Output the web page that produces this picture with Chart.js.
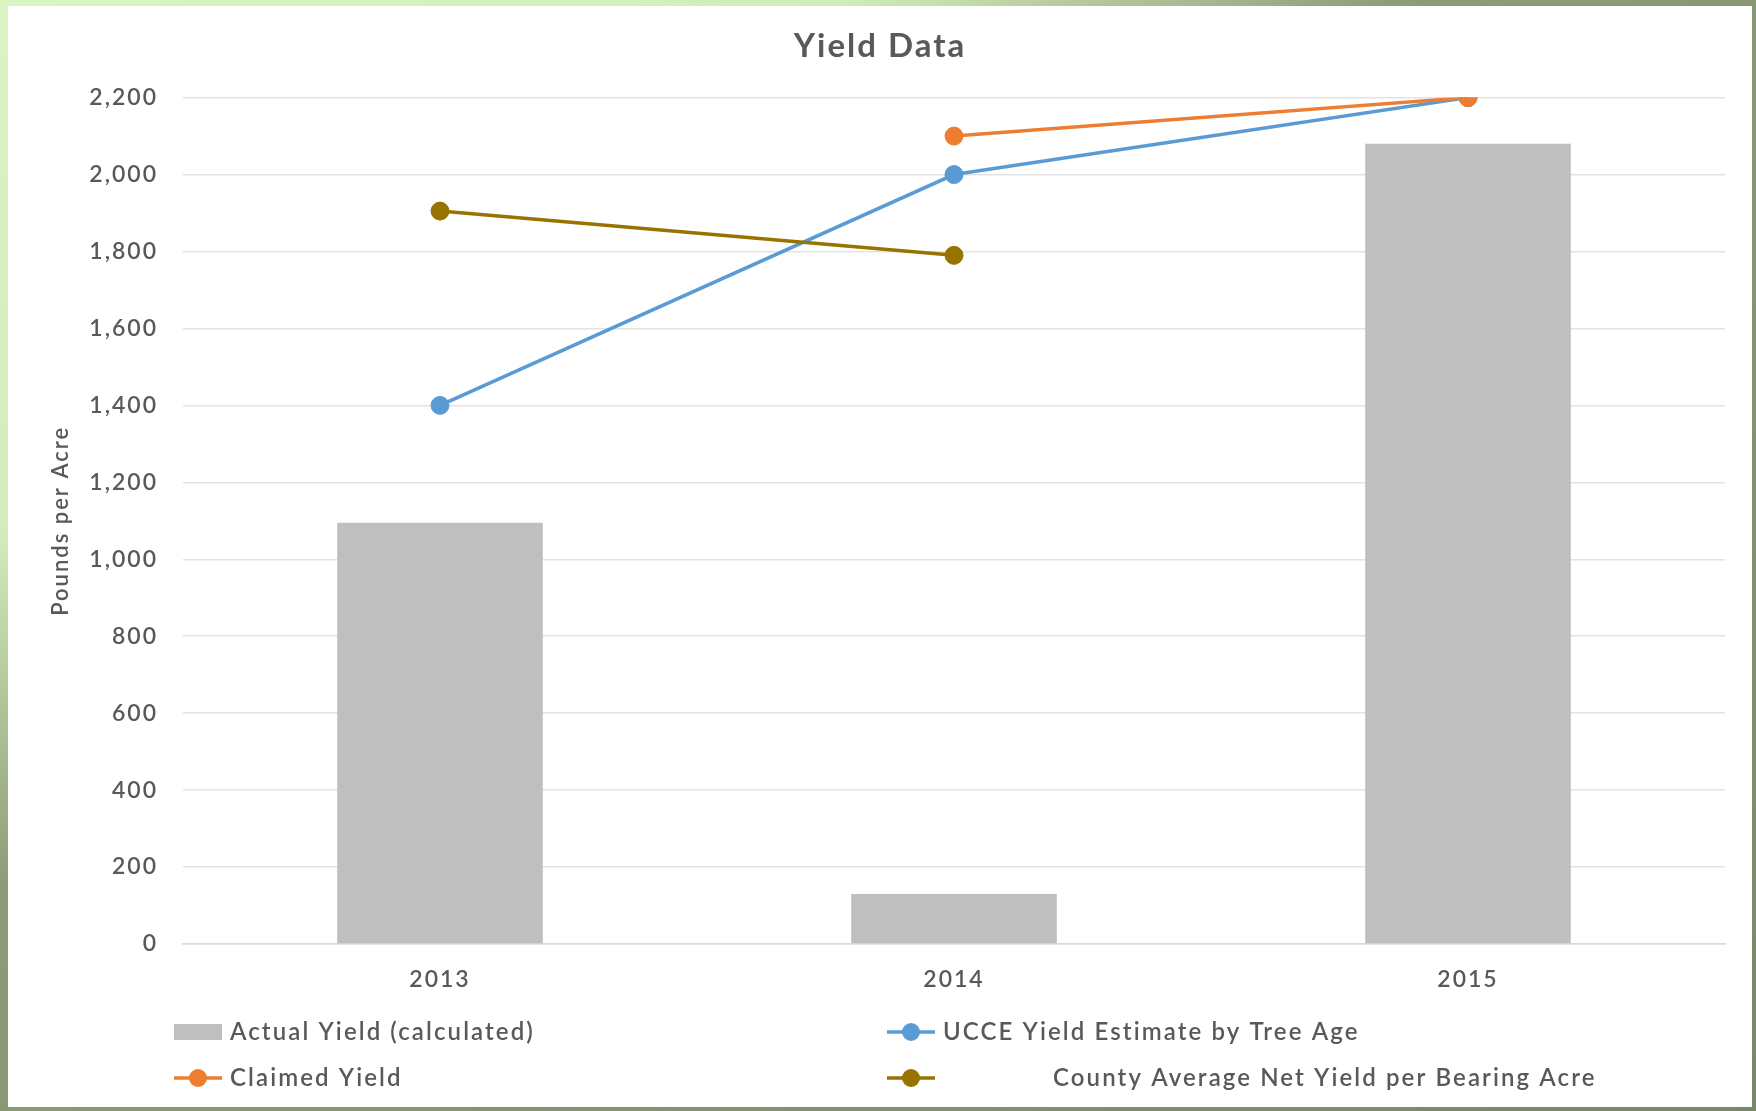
<!DOCTYPE html>
<html>
<head>
<meta charset="utf-8">
<title>Yield Data</title>
<script src="https://cdn.jsdelivr.net/npm/chart.js@4.4.1/dist/chart.umd.min.js"></script>
<style>
    html, body { margin: 0; padding: 0; }
    body {
        width: 1756px;
        height: 1111px;
        overflow: hidden;
        position: relative;
        background: linear-gradient(to bottom right, #dbf4c6 0%, #d2ecbc 24%, #8d9c77 40%, #7a8869 100%);
    }
    #panel {
        position: absolute;
        left: 8px;
        top: 6px;
        width: 1744px;
        height: 1101px;
        background: #ffffff;
    }
</style>
</head>
<body>
<div id="panel"><canvas id="yieldChart" width="1744" height="1101"></canvas></div>
<script>
(function () {
    "use strict";

    // data
    var years = ['2013', '2014', '2015'];
    var actualYield = [1095, 130, 2080];
    var ucceEstimate = [1400, 2000, 2200];
    var claimedYield = [null, 2100, 2200];
    var countyAverage = [1905, 1790, null];
    var seriesNames = [
        'Actual Yield (calculated)',
        'UCCE Yield Estimate by Tree Age',
        'Claimed Yield',
        'County Average Net Yield per Bearing Acre'
    ];
    var yMin = 0;
    var yMax = 2200;
    var yStep = 200;

    var textColor = '#595959';
    var fontName = 'Lato, "Open Sans", sans-serif';

    // lower order = drawn later (on top), so orange sits over blue at 2015
    function lineSet(label, data, color, order) {
        return {
            type: 'line',
            label: label,
            data: data,
            borderColor: color,
            backgroundColor: color,
            borderWidth: 3.5,
            pointRadius: 9,
            pointBorderWidth: 1,
            pointBorderColor: color,
            pointBackgroundColor: color,
            tension: 0,
            fill: false,
            order: order
        };
    }

    // the Excel text is wider than Lato, widen it a bit
    var spacing = {
        id: 'spacing',
        beforeDraw: function (chart) {
            chart.ctx.letterSpacing = '2px';
        }
    };

    // legend drawn by hand, two columns like the Excel original
    var excelLegend = {
        id: 'excelLegend',
        afterDraw: function (chart) {
            var ctx = chart.ctx;
            var slots = [
                { x: 166, textX: 222, y: 1026 },
                { x: 879, textX: 935, y: 1026 },
                { x: 166, textX: 222, y: 1072 },
                { x: 879, textX: 1045, y: 1072 }
            ];
            ctx.save();
            ctx.font = '600 24px ' + fontName;
            ctx.letterSpacing = '2.1px';
            ctx.textBaseline = 'middle';
            ctx.textAlign = 'left';
            chart.data.datasets.forEach(function (ds, i) {
                var s = slots[i];
                if (ds.type === 'bar') {
                    ctx.fillStyle = ds.backgroundColor;
                    ctx.fillRect(s.x, s.y - 8, 48, 16);
                } else {
                    ctx.strokeStyle = ds.borderColor;
                    ctx.lineWidth = 3.5;
                    ctx.beginPath();
                    ctx.moveTo(s.x, s.y);
                    ctx.lineTo(s.x + 48, s.y);
                    ctx.stroke();
                    ctx.fillStyle = ds.borderColor;
                    ctx.beginPath();
                    ctx.arc(s.x + 24, s.y, 9, 0, Math.PI * 2);
                    ctx.fill();
                }
                ctx.fillStyle = textColor;
                ctx.fillText(ds.label, s.textX, s.y);
            });
            ctx.restore();
        }
    };

    var ctx = document.getElementById('yieldChart').getContext('2d');
    var chart = new Chart(ctx, {
        type: 'bar',
        data: {
            labels: years,
            datasets: [
                {
                    type: 'bar',
                    label: seriesNames[0],
                    data: actualYield,
                    backgroundColor: '#bfbfbf',
                    borderWidth: 0,
                    categoryPercentage: 0.8,
                    barPercentage: 0.5,
                    order: 10
                },
                lineSet(seriesNames[1], ucceEstimate, '#5b9bd5', 3),
                lineSet(seriesNames[2], claimedYield, '#ed7d31', 2),
                lineSet(seriesNames[3], countyAverage, '#997300', 1)
            ]
        },
        options: {
            responsive: false,
            animation: false,
            devicePixelRatio: 1,
            layout: {
                padding: { left: 27, right: 27, top: 0, bottom: 100 }
            },
            plugins: {
                legend: { display: false },
                tooltip: { enabled: false },
                title: {
                    display: true,
                    text: 'Yield Data',
                    color: textColor,
                    font: { family: fontName, size: 33, weight: 'bold' },
                    padding: { top: 21, bottom: 31 }
                }
            },
            scales: {
                x: {
                    grid: { display: false },
                    border: { display: true, color: '#d9d9d9', width: 1.5 },
                    ticks: {
                        color: textColor,
                        padding: 14,
                        font: { family: fontName, size: 23, weight: '600' }
                    },
                    afterFit: function (scale) {
                        scale.height = 63;
                    }
                },
                y: {
                    min: yMin,
                    max: yMax,
                    grid: { color: '#e3e3e3', lineWidth: 1.5, drawTicks: false },
                    border: { display: false },
                    ticks: {
                        stepSize: yStep,
                        color: textColor,
                        padding: 25,
                        font: { family: fontName, size: 23, weight: '600' },
                        callback: function (v) {
                            return Number(v).toLocaleString('en-US');
                        }
                    },
                    title: {
                        display: true,
                        text: 'Pounds per Acre',
                        color: textColor,
                        font: { family: fontName, size: 22, weight: '600' },
                        padding: { top: 13, bottom: 0 }
                    },
                    afterFit: function (scale) {
                        scale.width = 148;
                    }
                }
            }
        },
        plugins: [spacing, excelLegend]
    });
}());
</script>
</body>
</html>
